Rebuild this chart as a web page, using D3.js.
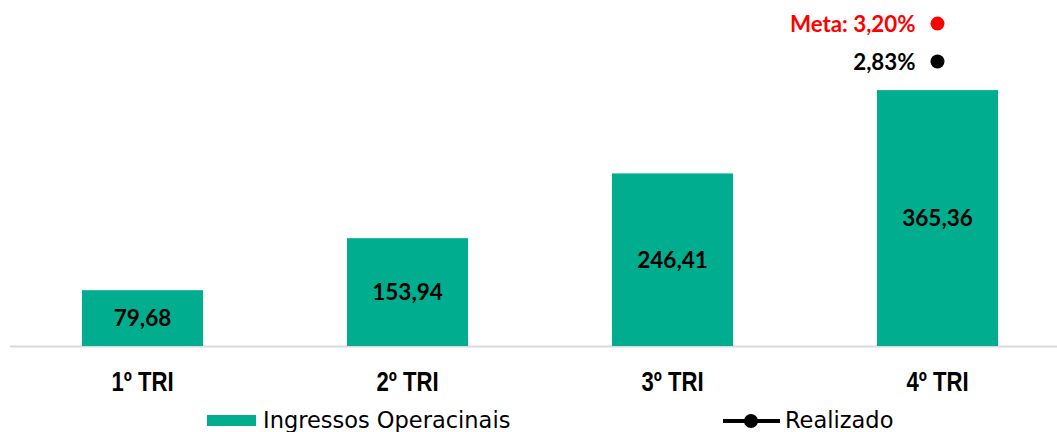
<!DOCTYPE html>
<html><head><meta charset="utf-8">
<script src="https://cdn.jsdelivr.net/npm/d3@7"></script>
<style>html,body{margin:0;padding:0;background:#fff;}svg{display:block;}</style>
</head><body>
<svg id="chart" width="1057" height="432"></svg>
<script>
const categories = ["1º TRI", "2º TRI", "3º TRI", "4º TRI"];
const ingressos = [79.68, 153.94, 246.41, 365.36];
const realizado = [null, null, null, 2.83];
const meta = [null, null, null, 3.20];
const legendLabels = ["Ingressos Operacinais", "Realizado"];

const teal = "#00AE8F";
const svg = d3.select("#chart");
const boldFont = "Lato, 'DejaVu Sans', sans-serif";
const catFont = "'Liberation Sans', Arial, sans-serif";
const legFont = "'DejaVu Sans', sans-serif";

const x = d3.scaleBand().domain(categories).range([10, 1070]).paddingInner(0.543).paddingOuter(0.2715);
const y = d3.scaleLinear().domain([0, 494]).range([346, 0]);
const y2 = d3.scaleLinear().domain([0, 3.43]).range([352, 0]);

// axis line
svg.append("line").attr("x1", 10).attr("x2", 1057).attr("y1", 346.5).attr("y2", 346.5)
  .attr("stroke", "#d9d9d9").attr("stroke-width", 2);

svg.selectAll("rect.bar").data(ingressos).join("rect").attr("class", "bar")
  .attr("x", (d, i) => x(categories[i])).attr("width", x.bandwidth())
  .attr("y", d => y(d)).attr("height", d => y(0) - y(d)).attr("fill", teal);

svg.selectAll("text.val").data(ingressos).join("text").attr("class", "val")
  .attr("x", (d, i) => x(categories[i]) + x.bandwidth() / 2)
  .attr("y", d => (y(d) + y(0)) / 2).attr("dy", "0.36em")
  .attr("text-anchor", "middle").attr("font-family", boldFont).attr("font-weight", "bold")
  .attr("font-size", 22.5).attr("fill", "#000")
  .text(d => d.toFixed(2).replace(".", ","));

// category axis labels (condensed via horizontal scale)
const xAxis = d3.axisBottom(x).tickSize(0).tickPadding(0);
const gx = svg.append("g").attr("transform", "translate(0,391)").call(xAxis);
gx.select(".domain").remove();
gx.selectAll("text").attr("font-family", catFont).attr("font-weight", "bold")
  .attr("font-size", 27).attr("fill", "#000").attr("dy", "0").attr("y", 0)
  .attr("transform", "scale(0.82,1)");

// points
const pts = [
  { data: meta, color: "#FF0000", label: d => "Meta: " + d.toFixed(2).replace(".", ",") + "%" },
  { data: realizado, color: "#000", label: d => d.toFixed(2).replace(".", ",") + "%" }
];
pts.forEach(s => {
  s.data.forEach((d, i) => {
    if (d == null) return;
    const cx = x(categories[i]) + x.bandwidth() / 2;
    svg.append("circle").attr("cx", cx).attr("cy", y2(d)).attr("r", 7).attr("fill", s.color);
    svg.append("text").attr("x", cx - 22).attr("y", y2(d)).attr("dy", "0.36em")
      .attr("text-anchor", "end").attr("font-family", boldFont).attr("font-weight", "bold")
      .attr("font-size", 22.3).attr("fill", s.color).text(s.label(d));
  });
});

// legend
const lg = svg.append("g");
lg.append("rect").attr("x", 207).attr("y", 415).attr("width", 49).attr("height", 11).attr("fill", teal);
lg.append("text").attr("x", 263).attr("y", 428).attr("font-family", legFont)
  .attr("font-size", 22.5).attr("fill", "#000").text(legendLabels[0]);
lg.append("line").attr("x1", 723).attr("x2", 780).attr("y1", 421).attr("y2", 421)
  .attr("stroke", "#000").attr("stroke-width", 4);
lg.append("circle").attr("cx", 751).attr("cy", 421).attr("r", 7).attr("fill", "#000");
lg.append("text").attr("x", 785).attr("y", 428).attr("font-family", legFont)
  .attr("font-size", 22.5).attr("fill", "#000").text(legendLabels[1]);
</script>
</body></html>
